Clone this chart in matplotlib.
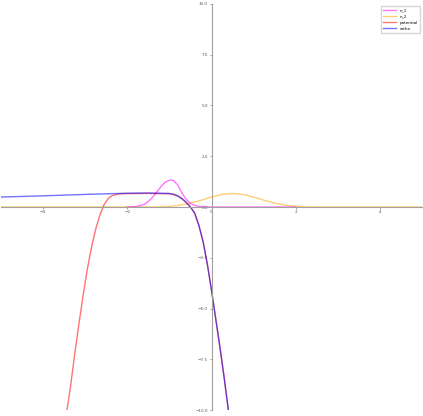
import numpy as np
import matplotlib.pyplot as plt

# n_1 density (magenta)
x_n1 = [-2.0, -1.8, -1.6, -1.5, -1.4, -1.3, -1.2, -1.1, -1.0, -0.95, -0.9, -0.8,
        -0.7, -0.6, -0.5, -0.4, -0.3, -0.2, -0.1, 0.0, 1.0, 2.0]
y_n1 = [0.0, 0.02, 0.13, 0.27, 0.48, 0.74, 1.0, 1.22, 1.32, 1.33, 1.3, 1.08,
        0.68, 0.38, 0.18, 0.08, 0.03, 0.01, 0.0, 0.0, 0.0, 0.0]

# n_2 density (orange)
x_n2 = [-5.0, -1.5, -1.25, -1.0, -0.75, -0.5, -0.25, 0.0, 0.25, 0.5, 0.75,
        1.0, 1.25, 1.5, 1.75, 2.0, 2.25, 2.5, 5.0]
y_n2 = [0.0, 0.0, 0.01, 0.03, 0.09, 0.19, 0.33, 0.49, 0.62, 0.67, 0.62,
        0.49, 0.33, 0.19, 0.09, 0.04, 0.01, 0.0, 0.0]

# potential (red)
x_pot = [-3.43, -3.35, -3.25, -3.15, -3.05, -2.95, -2.85, -2.75, -2.65, -2.55,
         -2.45, -2.35, -2.2, -2.0, -1.5, -1.0, -0.9, -0.8, -0.7, -0.6, -0.5,
         -0.4, -0.3, -0.2, -0.1, 0.0, 0.1, 0.2, 0.3, 0.4]
y_pot = [-10.0, -8.9, -7.3, -5.8, -4.4, -3.1, -2.0, -1.1, -0.4, 0.12,
         0.42, 0.57, 0.64, 0.66, 0.67, 0.65, 0.61, 0.53, 0.4, 0.22, 0.0,
         -0.3, -0.9, -1.7, -2.8, -4.1, -5.5, -6.9, -8.4, -10.0]

# ortho (blue)
x_ortho = [-5.0, -4.0, -3.0, -2.5, -2.0, -1.5, -1.0, -0.9, -0.8, -0.7, -0.6,
           -0.5, -0.4, -0.3, -0.2, -0.1, 0.0, 0.1, 0.2, 0.3, 0.4]
y_ortho = [0.49, 0.55, 0.62, 0.65, 0.68, 0.69, 0.67, 0.63, 0.55, 0.42, 0.23,
           0.0, -0.3, -0.9, -1.7, -2.8, -4.1, -5.5, -6.9, -8.4, -10.0]

fig = plt.figure(figsize=(4.23, 4.16), dpi=100)
ax = fig.add_axes([0.002, 0.0144, 0.996, 0.976])

ax.plot(x_n2, y_n2, color='orange', alpha=0.55, lw=1.0, label='n_2')
ax.plot(x_n1, y_n1, color='magenta', alpha=0.55, lw=1.0, label='n_1')
ax.plot(x_pot, y_pot, color='red', alpha=0.55, lw=1.0, label='potential')
ax.plot(x_ortho, y_ortho, color='blue', alpha=0.55, lw=1.0, label='ortho')

ax.set_xlim(-5, 5)
ax.set_ylim(-10, 10)
ax.set_yticks(np.arange(-10, 10.1, 2.5))

ax.spines['left'].set_position('zero')
ax.spines['bottom'].set_position('zero')
ax.spines['right'].set_visible(False)
ax.spines['top'].set_visible(False)
for s in ('left', 'bottom'):
    ax.spines[s].set_color('#a0a0a0')
    ax.spines[s].set_linewidth(0.8)
ax.tick_params(labelsize=3, length=1.5, width=0.4, colors='#555555', pad=1)

h, l = ax.get_legend_handles_labels()
order = [1, 0, 2, 3]
ax.legend([h[i] for i in order], [l[i] for i in order], loc='upper right',
          fontsize=3, handlelength=3, borderpad=0.6, framealpha=0.8)

fig.savefig('out.png', dpi=100)
